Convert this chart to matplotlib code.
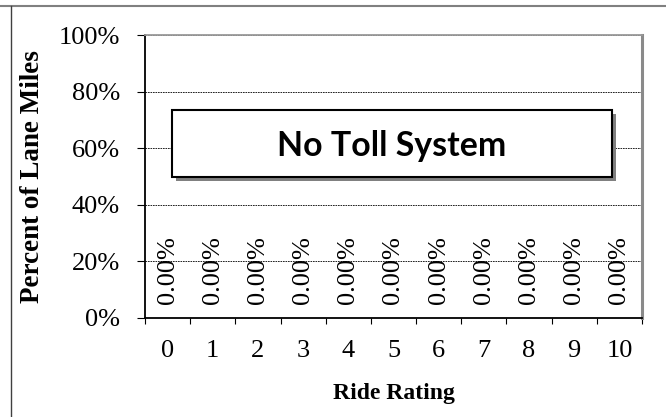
import numpy as np
import matplotlib
matplotlib.use('Agg')
import matplotlib.pyplot as plt
from matplotlib.patches import Rectangle
from matplotlib.lines import Line2D
from matplotlib.ticker import PercentFormatter, FixedLocator

# Data
categories = [0, 1, 2, 3, 4, 5, 6, 7, 8, 9, 10]
values = [0.0, 0.0, 0.0, 0.0, 0.0, 0.0, 0.0, 0.0, 0.0, 0.0, 0.0]
box_title = 'No Toll System'
x_label = 'Ride Rating'
y_label = 'Percent of Lane Miles'

plt.rcParams['font.family'] = ['Liberation Serif', 'DejaVu Serif']

fig = plt.figure(figsize=(6.66, 4.17), dpi=100)
ax = fig.add_axes([145/666, 1 - 318/417, 497/666, 283/417])

x = np.arange(len(categories))
bars = ax.bar(x, values, width=0.6, color='#4f81bd')

# data labels
for xi, v in zip(x, values):
    ax.annotate('%.2f%%' % (v * 100), xy=(xi, v), xytext=(0, 10),
                textcoords='offset points', rotation=90,
                ha='center', va='bottom', fontsize=19)

ax.set_xlim(-0.5, len(categories) - 0.5)
ax.set_ylim(0, 1)
ax.yaxis.set_major_locator(FixedLocator([0, 0.2, 0.4, 0.6, 0.8, 1.0]))
ax.yaxis.set_major_formatter(PercentFormatter(1.0, decimals=0))
ax.set_xticks(x)
ax.set_xticklabels([str(c) for c in categories])
ax.set_xticks(np.arange(-0.5, len(categories)), minor=True)

ax.tick_params(axis='x', which='major', length=0, pad=16, labelsize=19)
ax.tick_params(axis='x', which='minor', length=4.5, width=0.8, direction='out', color='black')
ax.tick_params(axis='y', which='major', length=6, width=0.8, direction='out', pad=12, labelsize=19)

ax.grid(axis='y', linestyle=(0, (2, 1)), linewidth=0.6, color='black')
ax.set_axisbelow(True)

for s in ['left', 'bottom']:
    ax.spines[s].set_color('black')
    ax.spines[s].set_linewidth(1.3)
ax.spines['top'].set_color('#9a9a9a')
ax.spines['top'].set_linewidth(1.3)
ax.spines['right'].set_color('#8a8a8a')
ax.spines['right'].set_linewidth(2.2)

ax.set_xlabel(x_label, fontsize=17, fontweight='bold', va='center')
ax.set_ylabel(y_label, fontsize=19.5, fontweight='bold', va='center')
ax.yaxis.set_label_coords(-112/497, 0.5)
ax.xaxis.set_label_coords(0.5, -75/283)

# text box with shadow
bx0, by0 = 27/497, 141/283
bw, bh = 440/497, 67/283
shadow = Rectangle((bx0 + 4/497, by0 - 4/283), bw, bh, transform=ax.transAxes,
                   facecolor='#808080', edgecolor='none', zorder=4)
box = Rectangle((bx0, by0), bw, bh, transform=ax.transAxes,
                facecolor='white', edgecolor='black', linewidth=1.5, zorder=5)
ax.add_patch(shadow)
ax.add_patch(box)
ax.text(bx0 + bw/2, by0 + bh/2 - 0.01, box_title, transform=ax.transAxes,
        ha='center', va='center', fontsize=24.4, fontweight='bold',
        family=['Lato', 'DejaVu Sans'], zorder=6)

# outer frame lines
fig.add_artist(Line2D([0, 1], [1 - 6/417, 1 - 6/417], transform=fig.transFigure,
                      color='#808080', linewidth=1.5))
fig.add_artist(Line2D([11/666, 11/666], [0, 1 - 6/417], transform=fig.transFigure,
                      color='#404040', linewidth=1.0))

fig.savefig('out.png', dpi=100)
